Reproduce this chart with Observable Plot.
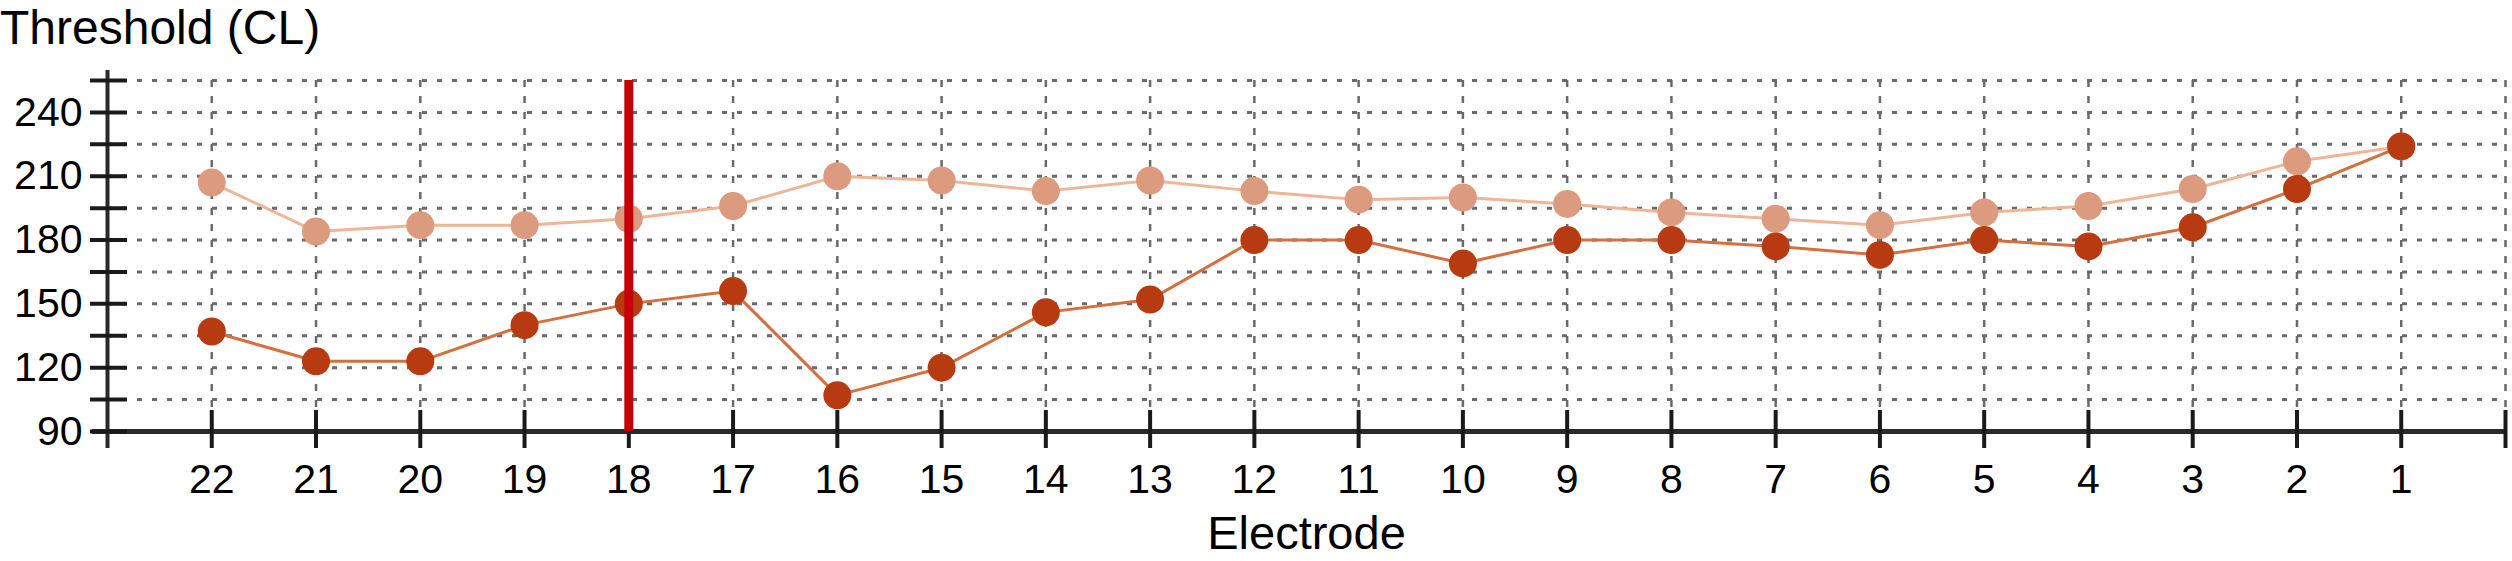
<!DOCTYPE html>
<html>
<head>
<meta charset="utf-8">
<script src="https://cdn.jsdelivr.net/npm/d3@7"></script>
<script src="https://cdn.jsdelivr.net/npm/@observablehq/plot@0.6"></script>
<style>
  html, body { margin: 0; padding: 0; background: #ffffff; }
  #title {
    font-family: "Liberation Sans", Arial, Helvetica, sans-serif;
    font-size: 48px; line-height: 55px; height: 55px;
    margin: 0; padding: 0; color: #000; white-space: nowrap;
  }
  #chart svg { display: block; }
</style>
</head>
<body>
<div id="title">Threshold (CL)</div>
<div id="chart"></div>
<script>
// ---- data ----
const electrodes = [22, 21, 20, 19, 18, 17, 16, 15, 14, 13, 12, 11, 10, 9, 8, 7, 6, 5, 4, 3, 2, 1];
const thresholdLower = [137, 123, 123, 140, 150, 156, 107, 120, 146, 152, 180, 180, 169, 180, 180, 177, 173, 180, 177, 186, 204, 224];
const thresholdUpper = [207, 184, 187, 187, 190, 196, 210, 208, 203, 208, 203, 199, 200, 197, 193, 190, 187, 193, 196, 204, 217, 224];
const markedElectrode = [18];
const xDomain = [23, 0];
const yDomain = [90, 255];
const yLabelTicks = [90, 120, 150, 180, 210, 240];
const yGridTicks = [90, 105, 120, 135, 150, 165, 180, 195, 210, 225, 240, 255];
const xGridTicks = [22, 21, 20, 19, 18, 17, 16, 15, 14, 13, 12, 11, 10, 9, 8, 7, 6, 5, 4, 3, 2, 1, 0];
const xLabel = ["Electrode"];

const rows = electrodes.map((e, i) => ({electrode: e, lower: thresholdLower[i], upper: thresholdUpper[i]}));

const W = 2512, H = 506;
const mL = 107, mR = 7, mT = 25, mB = 130;
const plotW = W - mL - mR, plotH = H - mT - mB;

const chart = Plot.plot({
  width: W,
  height: H,
  marginLeft: mL,
  marginRight: mR,
  marginTop: mT,
  marginBottom: mB,
  style: {fontFamily: "'Liberation Sans', Arial, Helvetica, sans-serif", background: "#ffffff", color: "#000"},
  x: {type: "linear", domain: xDomain},
  y: {type: "linear", domain: yDomain},
  marks: [
    // grid
    Plot.ruleY(yGridTicks.filter(v => v > yDomain[0]), {stroke: "#6a6a6a", strokeWidth: 3, strokeDasharray: "5,10"}),
    Plot.ruleX(xGridTicks, {stroke: "#6a6a6a", strokeWidth: 2.5, strokeDasharray: "7,9"}),
    // axis lines
    Plot.ruleY([yDomain[0]], {stroke: "#2a2a2a", strokeWidth: 5, insetLeft: -15}),
    Plot.ruleX([xDomain[0]], {stroke: "#2a2a2a", strokeWidth: 4, insetTop: -10, insetBottom: -17}),
    // tick marks crossing axes
    Plot.tickX(xGridTicks, {x: d => d, stroke: "#1a1a1a", strokeWidth: 4, insetTop: plotH - 21, insetBottom: -17}),
    Plot.tickY(yGridTicks, {y: d => d, stroke: "#1a1a1a", strokeWidth: 4, insetLeft: -17, insetRight: plotW - 20}),
    // tick labels
    Plot.axisX(electrodes, {anchor: "bottom", tickSize: 0, tickPadding: 32, fontSize: 41, label: null}),
    Plot.axisY(yLabelTicks, {anchor: "left", tickSize: 0, tickPadding: 25, fontSize: 41, label: null}),
    Plot.text(xLabel, {frameAnchor: "bottom", text: d => d, dy: 84, lineAnchor: "top", fontSize: 47, fill: "#000"}),
    // series
    Plot.line(rows, {x: "electrode", y: "upper", stroke: "#efb596", strokeWidth: 3}),
    Plot.dot(rows, {x: "electrode", y: "upper", r: 14, fill: "#dc9a7e", stroke: "none"}),
    Plot.line(rows, {x: "electrode", y: "lower", stroke: "#d4703f", strokeWidth: 3}),
    Plot.dot(rows, {x: "electrode", y: "lower", r: 14, fill: "#b83a10", stroke: "none"}),
    // marked electrode
    Plot.ruleX(markedElectrode, {stroke: "#c4000a", strokeWidth: 9})
  ]
});
document.getElementById("chart").appendChild(chart);
</script>
</body>
</html>
